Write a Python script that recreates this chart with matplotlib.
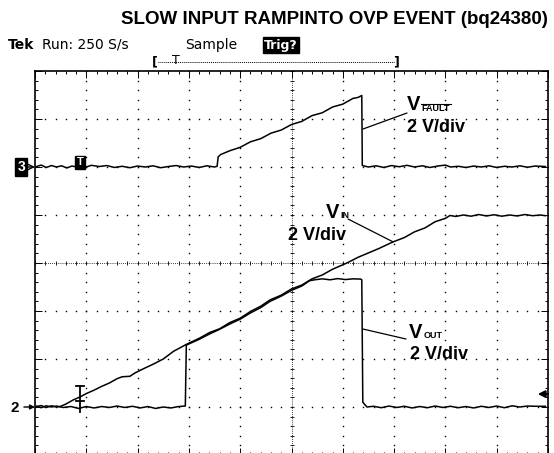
import numpy as np
import matplotlib
matplotlib.use("Agg")
import matplotlib.pyplot as plt
from matplotlib.lines import Line2D

plt.rcParams['font.family'] = ['Liberation Sans', 'DejaVu Sans']

# time in screen divisions, voltage in volts (2 V/div)
vfault_t = [0.03, 0.12, 0.22, 0.32, 0.42, 0.52, 0.62, 0.72, 0.82, 0.95, 1.1, 1.25, 1.4, 1.55, 1.7,
            1.85, 2.0, 2.15, 2.3, 2.45, 2.6, 2.75, 2.9, 3.05, 3.2, 3.35, 3.5, 3.55,
            3.57, 3.62, 3.8, 4.0, 4.2, 4.4, 4.6, 4.8, 5.0, 5.2, 5.4, 5.6, 5.8, 6.0, 6.2, 6.3, 6.37,
            6.38, 6.5, 6.65, 6.8, 6.95, 7.1, 7.25, 7.4, 7.55, 7.7, 7.85, 8.0, 8.1, 8.25, 8.4,
            8.55, 8.7, 8.85, 9.0, 9.15, 9.3, 9.45, 9.6, 9.75, 9.95]
vfault_v = [0.02, 0.08, -0.02, 0.06, 0.0, 0.05, -0.04, 0.04, 0.0, -0.03, 0.07, 0.02, 0.06, -0.02, 0.03,
            -0.03, 0.04, 0.0, 0.05, -0.03, 0.02, 0.06, 0.0, 0.04, -0.02, 0.05, 0.0, 0.03,
            0.42, 0.52, 0.68, 0.82, 1.05, 1.18, 1.41, 1.54, 1.77, 1.90, 2.14, 2.26, 2.50, 2.62, 2.86, 2.90, 2.98,
            0.06, 0.0, 0.05, -0.02, 0.06, 0.01, 0.07, 0.0, 0.05, -0.02, 0.04, 0.08, 0.0, 0.03, -0.02,
            0.04, 0.0, 0.05, -0.02, 0.03, 0.0, 0.05, -0.01, 0.04, 0.02]

vin_t = [0.03, 0.12, 0.22, 0.32, 0.42, 0.49, 0.6, 0.75, 0.88, 1.0, 1.15, 1.3, 1.45, 1.6, 1.7, 1.85,
         1.95, 2.1, 2.3, 2.5, 2.7, 2.96, 3.2, 3.4, 3.6, 3.8, 4.0, 4.2, 4.4, 4.58, 4.8, 5.0, 5.2,
         5.4, 5.6, 5.8, 6.08, 6.3, 6.5, 6.7, 6.98, 7.2, 7.4, 7.6, 7.8, 8.0, 8.09,
         8.2, 8.35, 8.5, 8.65, 8.8, 8.95, 9.1, 9.25, 9.4, 9.55, 9.7, 9.85, 9.95]
vin_v = [0.02, 0.06, -0.02, 0.05, 0.0, 0.02, 0.12, 0.30, 0.42, 0.56, 0.70, 0.86, 1.0, 1.18, 1.26, 1.28,
         1.42, 1.58, 1.78, 2.0, 2.32, 2.62, 2.86, 3.1, 3.26, 3.52, 3.70, 3.98, 4.2, 4.46, 4.66, 4.92, 5.08,
         5.34, 5.5, 5.74, 6.0, 6.24, 6.42, 6.6, 6.88, 7.06, 7.3, 7.46, 7.72, 7.86, 7.98,
         7.94, 8.0, 7.95, 8.02, 7.96, 8.01, 7.95, 8.0, 7.96, 8.02, 7.97, 8.0, 7.97]

vout_t = [0.03, 0.12, 0.22, 0.32, 0.42, 0.55, 0.7, 0.85, 1.0, 1.15, 1.3, 1.45, 1.6, 1.75, 1.9, 2.05,
          2.2, 2.35, 2.5, 2.65, 2.8, 2.93, 2.95, 3.2, 3.4, 3.6, 3.8, 4.0, 4.2, 4.4, 4.58, 4.8, 5.0,
          5.2, 5.35, 5.45, 5.6, 5.75, 5.9, 6.05, 6.2, 6.35, 6.37, 6.39, 6.47, 6.6, 6.75, 6.9, 7.05,
          7.2, 7.35, 7.5, 7.65, 7.8, 7.95, 8.1, 8.25, 8.4, 8.55, 8.7, 8.85, 9.0, 9.15, 9.3, 9.45,
          9.6, 9.75, 9.95]
vout_v = [0.03, -0.03, 0.05, 0.0, 0.04, -0.02, 0.02, -0.06, 0.02, -0.04, 0.02, -0.02, 0.04, -0.02, 0.03, -0.04,
          0.02, -0.06, 0.0, -0.04, 0.02, 0.04, 2.58, 2.82, 3.04, 3.24, 3.46, 3.66, 3.92, 4.14, 4.40, 4.62, 4.86,
          5.04, 5.26, 5.30, 5.34, 5.30, 5.35, 5.31, 5.34, 5.33, 5.30, 0.2, 0.0, 0.03, -0.03, 0.04, -0.02,
          0.03, -0.04, 0.02, -0.03, 0.04, -0.02, 0.03, -0.03, 0.02, -0.04, 0.03, -0.02, 0.04, -0.03, 0.05, 0.0,
          0.04, 0.03, 0.03]

ch3_pos = 2.0    # divisions above centre
ch2_pos = -3.0
volts_per_div = 2.0

W, H = 554, 453
fig = plt.figure(figsize=(W / 100, H / 100), dpi=100)
ax = fig.add_axes([35 / W, 1 - 455 / H, 513 / W, 384 / H])
ax.set_xlim(0, 10)
ax.set_ylim(-4, 4)

def fx(x):
    return x / W

def fy(y):
    return 1 - y / H

# graticule
ax.set_xticks(np.arange(0, 11, 1))
ax.set_yticks(np.arange(-4, 5, 1))
ax.set_xticks(np.arange(0, 10.01, 0.2), minor=True)
ax.set_yticks(np.arange(-4, 4.01, 0.2), minor=True)
ax.tick_params(which='both', direction='in', top=True, right=True,
               labelbottom=False, labelleft=False, color='black', width=0.7)
ax.tick_params(which='major', length=5)
ax.tick_params(which='minor', length=2.5)
for s in ax.spines.values():
    s.set_linewidth(1.2)

steps_x = np.arange(0, 10.01, 0.2)
steps_y = np.arange(-4, 4.01, 0.2)
for gx in [1, 2, 3, 4, 6, 7, 8, 9]:
    ax.plot(np.full_like(steps_y, gx), steps_y, ls='none', marker='s', ms=1.0, mew=0, color='black')
for gy in [-3, -2, -1, 1, 2, 3]:
    ax.plot(steps_x, np.full_like(steps_x, gy), ls='none', marker='s', ms=1.0, mew=0, color='black')
ax.axhline(0, color='black', lw=0.6, ls=(0, (1, 1.5)))
ax.axvline(5, color='black', lw=0.6, ls=(0, (1, 1.5)))
ax.plot(steps_x, np.zeros_like(steps_x), ls='none', marker='|', ms=3.5, mew=0.6, color='black')
ax.plot(np.full_like(steps_y, 5), steps_y, ls='none', marker='_', ms=3.5, mew=0.6, color='black')

# traces
ax.plot(vfault_t, ch3_pos + np.array(vfault_v) / volts_per_div, color='black', lw=1.1)
ax.plot(vin_t, ch2_pos + np.array(vin_v) / volts_per_div, color='black', lw=1.1)
ax.plot(vout_t, ch2_pos + np.array(vout_v) / volts_per_div, color='black', lw=1.1)

# cursor I-beam near the start of the ramp
ax.plot([0.88, 0.88], [-2.56, -3.1], color='black', lw=1.3)
ax.plot([0.8, 0.96], [-2.56, -2.56], color='black', lw=1.3)
ax.plot([0.8, 0.96], [-2.875, -2.875], color='black', lw=1.3)

# trigger marker in the plot
ax.text(0.88, 2.1, 'T', color='white', fontsize=8, fontweight='bold', ha='center', va='center',
        bbox=dict(facecolor='black', edgecolor='black', pad=1.2))

# channel ground markers
ax.text(-0.027, ch3_pos, '3', transform=ax.get_yaxis_transform(), color='white', fontsize=10,
        fontweight='bold', ha='center', va='center', clip_on=False,
        bbox=dict(facecolor='black', edgecolor='black', pad=1.5))
ax.annotate('', xy=(0, ch3_pos), xycoords=('axes fraction', 'data'),
            xytext=(-5, 0), textcoords='offset points',
            arrowprops=dict(arrowstyle='->', color='black', lw=1, shrinkA=0, shrinkB=0))
ax.text(-0.04, ch2_pos - 0.02, '2', transform=ax.get_yaxis_transform(), color='black', fontsize=11,
        fontweight='bold', ha='center', va='center', clip_on=False)
ax.annotate('', xy=(0, ch2_pos), xycoords=('axes fraction', 'data'),
            xytext=(-8, 0), textcoords='offset points',
            arrowprops=dict(arrowstyle='-|>', color='black', lw=1, shrinkA=0, shrinkB=0,
                            mutation_scale=7))
# trigger level arrow on right edge
ax.annotate('', xy=(9.8, -2.73), xytext=(10.0, -2.73),
            arrowprops=dict(arrowstyle='-|>', color='black', lw=1.5, shrinkA=0, shrinkB=0,
                            mutation_scale=10))

# labels and leader lines
lab = dict(fontsize=13, fontweight='bold', color='black', family='Liberation Sans')
big = dict(fontsize=14.5, fontweight='bold', color='black', family='Liberation Sans')
sub = dict(fontsize=6.5, fontweight='bold', color='black', family='Liberation Sans')

fig.text(fx(407), fy(110), 'V', ha='left', va='baseline', **big)
fig.text(fx(421), fy(111), 'FAULT', ha='left', va='baseline', **sub)
fig.add_artist(Line2D([fx(421), fx(451)], [fy(104), fy(104)], color='black', lw=0.8))
fig.text(fx(407), fy(132), '2 V/div', ha='left', va='baseline', **lab)
ax.annotate('', xy=(6.39, 2.79), xytext=(fx(407), fy(113)), textcoords='figure fraction',
            arrowprops=dict(arrowstyle='-', color='black', lw=0.9, shrinkA=0, shrinkB=0))

fig.text(fx(326), fy(218), 'V', ha='left', va='baseline', **big)
fig.text(fx(340), fy(218), 'IN', ha='left', va='baseline', **sub)
fig.text(fx(288), fy(240), '2 V/div', ha='left', va='baseline', **lab)
ax.annotate('', xy=(6.98, 0.44), xytext=(fx(348), fy(219)), textcoords='figure fraction',
            arrowprops=dict(arrowstyle='-', color='black', lw=0.9, shrinkA=0, shrinkB=0))

fig.text(fx(409), fy(338), 'V', ha='left', va='baseline', **big)
fig.text(fx(424), fy(338), 'OUT', ha='left', va='baseline', **sub)
fig.text(fx(410), fy(359), '2 V/div', ha='left', va='baseline', **lab)
ax.annotate('', xy=(6.39, -1.375), xytext=(fx(406), fy(339)), textcoords='figure fraction',
            arrowprops=dict(arrowstyle='-', color='black', lw=0.9, shrinkA=0, shrinkB=0))

# header
fig.text(fx(334), fy(20), 'SLOW INPUT RAMPINTO OVP EVENT (bq24380)', ha='center', va='center',
         fontsize=13.5, fontweight='bold', family='Liberation Sans')
hdr = dict(fontsize=10, family='DejaVu Sans', va='center')
fig.text(fx(8), fy(45), 'Tek', fontweight='bold', **hdr)
fig.text(fx(42), fy(45), 'Run: 250 S/s', **hdr)
fig.text(fx(185), fy(45), 'Sample', **hdr)
fig.text(fx(264), fy(45), 'Trig?', color='white', fontweight='bold', fontsize=9, family='DejaVu Sans',
         va='center', bbox=dict(facecolor='black', edgecolor='black', pad=1))
fig.text(fx(155), fy(62), '[', fontsize=9, fontweight='bold', ha='center', va='center', family='DejaVu Sans')
fig.text(fx(176), fy(61), 'T', fontsize=9, ha='center', va='center', family='DejaVu Sans')
fig.text(fx(396), fy(62), ']', fontsize=9, fontweight='bold', ha='center', va='center', family='DejaVu Sans')
fig.add_artist(Line2D([fx(158), fx(394)], [fy(62), fy(62)], color='black', lw=0.7, ls=(0, (1, 1))))

fig.savefig('out.png', dpi=100)
